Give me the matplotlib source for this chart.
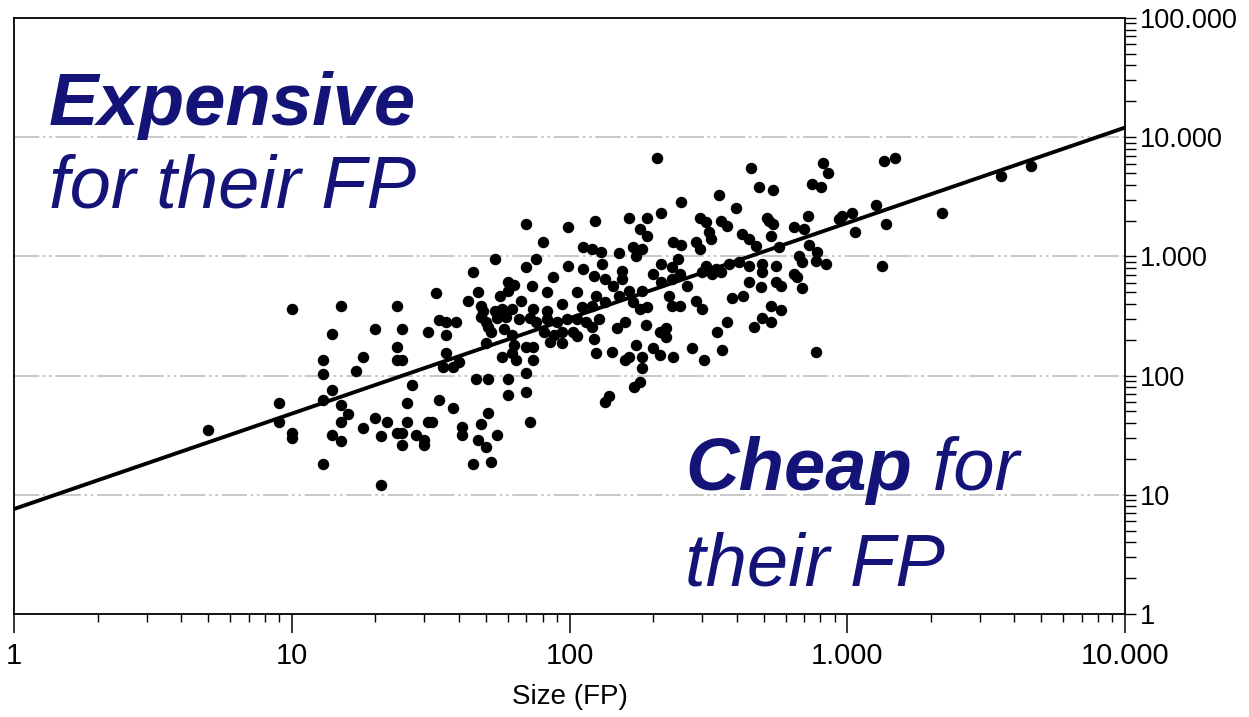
import numpy as np
import matplotlib
matplotlib.use("Agg")
import matplotlib.pyplot as plt
from matplotlib.ticker import FixedLocator, FixedFormatter, LogLocator, NullFormatter

# ---------------- data ----------------
size_fp = [
    5, 9, 9, 10, 10, 10, 13, 13, 13, 13, 14, 14, 14, 15, 15, 15, 15, 16, 17, 18,
    18, 20, 20, 21, 21, 22, 24, 24, 24, 24, 25, 25, 25, 25, 26, 26, 27, 28, 30, 30,
    # middle-left cluster
    70, 99, 80, 54, 76, 112, 45, 70, 99, 112, 87, 60, 63, 73, 33, 47, 56, 60, 83, 106,
    43, 67, 94, 48, 49, 54, 57, 62, 74, 72, 83, 111, 31, 34, 36, 39, 48, 50, 55, 59,
    66, 76, 83, 90, 98, 106, 115, 36, 51, 52, 58, 62, 81, 88, 94, 103, 36, 50, 57, 62,
    63, 70, 74, 85, 94, 106, 35, 38, 40, 64, 74, 70, 46, 51, 60, 60, 70, 34, 38, 51,
    31, 32, 41, 41, 48, 55, 72, 47, 50, 45, 52,
    # central cluster
    206, 452, 482, 346, 251, 399, 214, 124, 164, 190, 294, 311, 352, 370, 515, 179, 190, 319, 324, 419,
    444, 471, 235, 253, 286, 294, 169, 183, 174, 121, 130, 151, 245, 131, 214, 233, 311, 338, 376, 409,
    444, 494, 155, 154, 199, 249, 264, 301, 327, 352, 494, 123, 134, 143, 164, 183, 214, 233, 444, 491,
    125, 134, 121, 151, 169, 179, 190, 229, 233, 249, 286, 301, 386, 423, 128, 121, 148, 158, 189, 223,
    211, 223, 370, 341, 463, 494, 123, 125, 142, 158, 164, 174, 183, 199, 211, 235, 275, 306, 355, 183,
    179, 171, 139, 134,
    # right part
    820, 855, 748, 806, 1359, 1489, 542, 1271, 935, 960, 1043, 724, 645, 700, 1069, 1381, 2198, 3581, 4590, 524,
    542, 533, 569, 730, 780, 773, 840, 672, 689, 556, 645, 661, 556, 579, 689, 1336, 533, 579, 533, 773,
]
effort = [
    35, 59, 41, 33, 30, 359, 134, 104, 63, 18, 225, 76, 32, 380, 57, 41, 28, 48, 110, 142,
    36, 248, 44, 31, 12, 41, 33, 380, 175, 134, 134, 248, 33, 26, 59, 41, 84, 32, 29, 26,
    # middle-left cluster
    1857, 1753, 1312, 944, 944, 1191, 734, 808, 824, 778, 666, 605, 571, 560, 489, 498, 461, 508, 498, 498,
    419, 419, 395, 380, 345, 345, 359, 359, 359, 307, 345, 373, 234, 290, 279, 279, 313, 284, 307, 313,
    296, 279, 296, 284, 296, 296, 279, 221, 258, 230, 244, 221, 230, 221, 234, 230, 156, 189, 144, 156,
    182, 175, 175, 193, 189, 213, 119, 119, 129, 136, 134, 106, 94, 94, 94, 69, 73, 63, 53, 49,
    41, 41, 37, 32, 39, 32, 41, 29, 25, 18, 19,
    # central cluster
    6667, 5486, 3800, 3258, 2844, 2531, 2297, 1968, 2085, 2085, 2085, 1932, 1968, 1786, 2085, 1686, 1472, 1591, 1389, 1530,
    1389, 1214, 1312, 1237, 1312, 1146, 1191, 1146, 1000, 1146, 1081, 1060, 944, 857, 857, 808, 824, 778, 857, 891,
    824, 857, 748, 641, 706, 706, 560, 734, 706, 734, 734, 679, 641, 560, 508, 508, 605, 641, 605, 549,
    461, 411, 380, 461, 411, 359, 373, 461, 380, 380, 419, 359, 444, 461, 296, 258, 253, 284, 268, 253,
    230, 209, 279, 234, 258, 307, 201, 156, 159, 136, 144, 182, 144, 172, 150, 142, 172, 134, 165, 115,
    89, 81, 67, 60,
    # right part
    6049, 4983, 4029, 3800, 6287, 6667, 3589, 2684, 2047, 2168, 2297, 2168, 1753, 1686, 1591, 1857, 2297, 4700, 5705, 1968,
    1857, 1472, 1191, 1237, 1081, 908, 857, 1000, 891, 824, 706, 666, 605, 560, 538, 824, 380, 352, 284, 159,
]

x_ticks = [1, 10, 100, 1000, 10000]
x_tick_labels = ["1", "10", "100", "1.000", "10.000"]
y_ticks = [1, 10, 100, 1000, 10000, 100000]
y_tick_labels = ["1", "10", "100", "1.000", "10.000", "100.000"]
grid_levels = [10, 100, 1000, 10000]

trend_coef = 7.6
trend_exp = 0.8
trend_range = [1, 10000]

x_label = "Size (FP)"
label_expensive = "Expensive"
label_expensive_sub = "for their FP"
label_cheap = "Cheap"
label_cheap_tail = " for"
label_cheap_sub = "their FP"

# ---------------- figure ----------------
plt.rcParams["font.family"] = ["Liberation Sans", "DejaVu Sans"]
W, H = 1249, 717
fig = plt.figure(figsize=(W / 100, H / 100), dpi=100)
ax = fig.add_axes([14 / W, (H - 614) / H, (1125 - 14) / W, (614 - 18) / H])
ax.set_xscale("log")
ax.set_yscale("log")
ax.set_xlim(1, 10000)
ax.set_ylim(1, 100000)

# grid lines (horizontal only)
for g in grid_levels:
    ax.axhline(g, color="#c4c4c4", lw=1.3, linestyle=(0, (14, 2, 1.5, 2, 1.5, 2)), zorder=1)

ax.scatter(size_fp, effort, s=68, c="black", linewidths=0, zorder=3)
xs = np.array(trend_range, dtype=float)
ax.plot(xs, trend_coef * xs ** trend_exp, color="black", lw=2.8, zorder=4,
        solid_capstyle="butt")

for sp in ax.spines.values():
    sp.set_linewidth(1.3)
    sp.set_color("black")

# x axis
ax.xaxis.set_major_locator(FixedLocator(x_ticks))
ax.xaxis.set_major_formatter(FixedFormatter(x_tick_labels))
ax.xaxis.set_minor_locator(LogLocator(base=10, subs=np.arange(2, 10)))
ax.xaxis.set_minor_formatter(NullFormatter())
ax.tick_params(axis="x", which="major", direction="out", length=14, width=1.1, pad=6)
ax.tick_params(axis="x", which="minor", direction="out", length=6, width=1.0)
for lab in ax.get_xticklabels():
    lab.set_fontsize(21)

# y axis on the right
ax.yaxis.tick_right()
ax.yaxis.set_major_locator(FixedLocator(y_ticks))
ax.yaxis.set_major_formatter(FixedFormatter(y_tick_labels))
ax.yaxis.set_minor_locator(LogLocator(base=10, subs=np.arange(2, 10)))
ax.yaxis.set_minor_formatter(NullFormatter())
ax.tick_params(axis="y", which="both", direction="out", length=8, width=1.0,
               left=False, right=True, labelleft=False, labelright=True, pad=3,
               labelsize=19.5)

ax.set_xlabel(x_label, fontsize=20, labelpad=10)

# annotations
navy = "#141478"
fs = 53.5
fig.text(49 / W, 1 - 125 / H, label_expensive, fontsize=fs, fontweight="bold",
         fontstyle="italic", color=navy, va="baseline", ha="left")
fig.text(49 / W, 1 - 208 / H, label_expensive_sub, fontsize=fs,
         fontstyle="italic", color=navy, va="baseline", ha="left")
t_cheap = fig.text(685 / W, 1 - 490 / H, label_cheap, fontsize=fs, fontweight="bold",
                   fontstyle="italic", color=navy, va="baseline", ha="left")
fig.text(685 / W, 1 - 585 / H, label_cheap_sub, fontsize=fs,
         fontstyle="italic", color=navy, va="baseline", ha="left")
fig.canvas.draw()
bb = t_cheap.get_window_extent()
fig.text(bb.x1 / W, 1 - 490 / H, label_cheap_tail, fontsize=fs,
         fontstyle="italic", color=navy, va="baseline", ha="left")

fig.savefig("out.png", dpi=100)
